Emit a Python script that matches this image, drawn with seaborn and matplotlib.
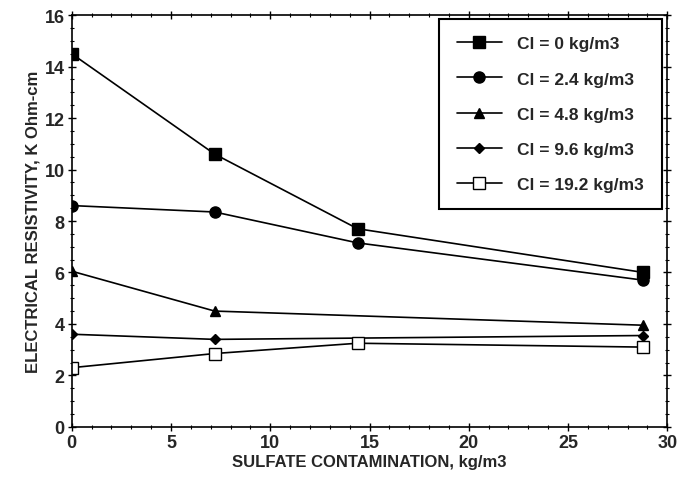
import matplotlib
matplotlib.use("Agg")
import matplotlib.pyplot as plt
import seaborn as sns
import pandas as pd
from matplotlib.ticker import MultipleLocator

sns.set_style("ticks")
plt.rcParams['font.family'] = ['Liberation Sans', 'DejaVu Sans']
plt.rcParams['font.weight'] = 'bold'

labels = ["Cl = 0 kg/m3", "Cl = 2.4 kg/m3", "Cl = 4.8 kg/m3", "Cl = 9.6 kg/m3", "Cl = 19.2 kg/m3"]
x_cl0 = [0, 7.2, 14.4, 28.8]
y_cl0 = [14.5, 10.6, 7.7, 6.0]
x_cl24 = [0, 7.2, 14.4, 28.8]
y_cl24 = [8.6, 8.35, 7.15, 5.7]
x_cl48 = [0, 7.2, 28.8]
y_cl48 = [6.05, 4.5, 3.95]
x_cl96 = [0, 7.2, 28.8]
y_cl96 = [3.6, 3.4, 3.55]
x_cl192 = [0, 7.2, 14.4, 28.8]
y_cl192 = [2.3, 2.85, 3.25, 3.1]

xs = [x_cl0, x_cl24, x_cl48, x_cl96, x_cl192]
ys = [y_cl0, y_cl24, y_cl48, y_cl96, y_cl192]
markers = ['s', 'o', '^', 'D', 's']
msizes = [8, 8, 7, 5.5, 8]
faces = ['black', 'black', 'black', 'black', 'white']

fig = plt.figure(figsize=(6.83, 4.89), dpi=100)
ax = fig.add_axes([0.105, 0.125, 0.872, 0.842])

for lab, x, y, m, ms, fc in zip(labels, xs, ys, markers, msizes, faces):
    df = pd.DataFrame({"x": x, "y": y})
    sns.lineplot(data=df, x="x", y="y", ax=ax, color='black', lw=1.2,
                 marker=m, markersize=ms, markerfacecolor=fc,
                 markeredgecolor='black', markeredgewidth=1.0, label=lab)

ax.set_xlim(0, 30)
ax.set_ylim(0, 16)
ax.xaxis.set_major_locator(MultipleLocator(5))
ax.xaxis.set_minor_locator(MultipleLocator(1))
ax.yaxis.set_major_locator(MultipleLocator(2))
ax.yaxis.set_minor_locator(MultipleLocator(0.5))
ax.tick_params(which='both', direction='inout', top=True, right=True, color='black')
ax.tick_params(which='major', length=6, width=1, labelsize=13, pad=2)
ax.tick_params(which='minor', length=3, width=0.8)
for lbl in ax.get_xticklabels() + ax.get_yticklabels():
    lbl.set_fontweight('bold')
for s in ax.spines.values():
    s.set_color('black')
    s.set_linewidth(1.2)

ax.set_xlabel("SULFATE CONTAMINATION, kg/m3", fontsize=12, fontweight='bold', labelpad=2)
ax.set_ylabel("ELECTRICAL RESISTIVITY, K Ohm-cm", fontsize=12, fontweight='bold', labelpad=3)

leg = ax.legend(loc='upper right', bbox_to_anchor=(1.005, 1.012), frameon=True, fancybox=False,
                edgecolor='black', framealpha=1, fontsize=12.5, handlelength=2.6,
                labelspacing=1.15, borderpad=1.0, handletextpad=0.9)
leg.get_frame().set_linewidth(1.5)
for t in leg.get_texts():
    t.set_fontweight('bold')

fig.savefig("out.png", dpi=100)
